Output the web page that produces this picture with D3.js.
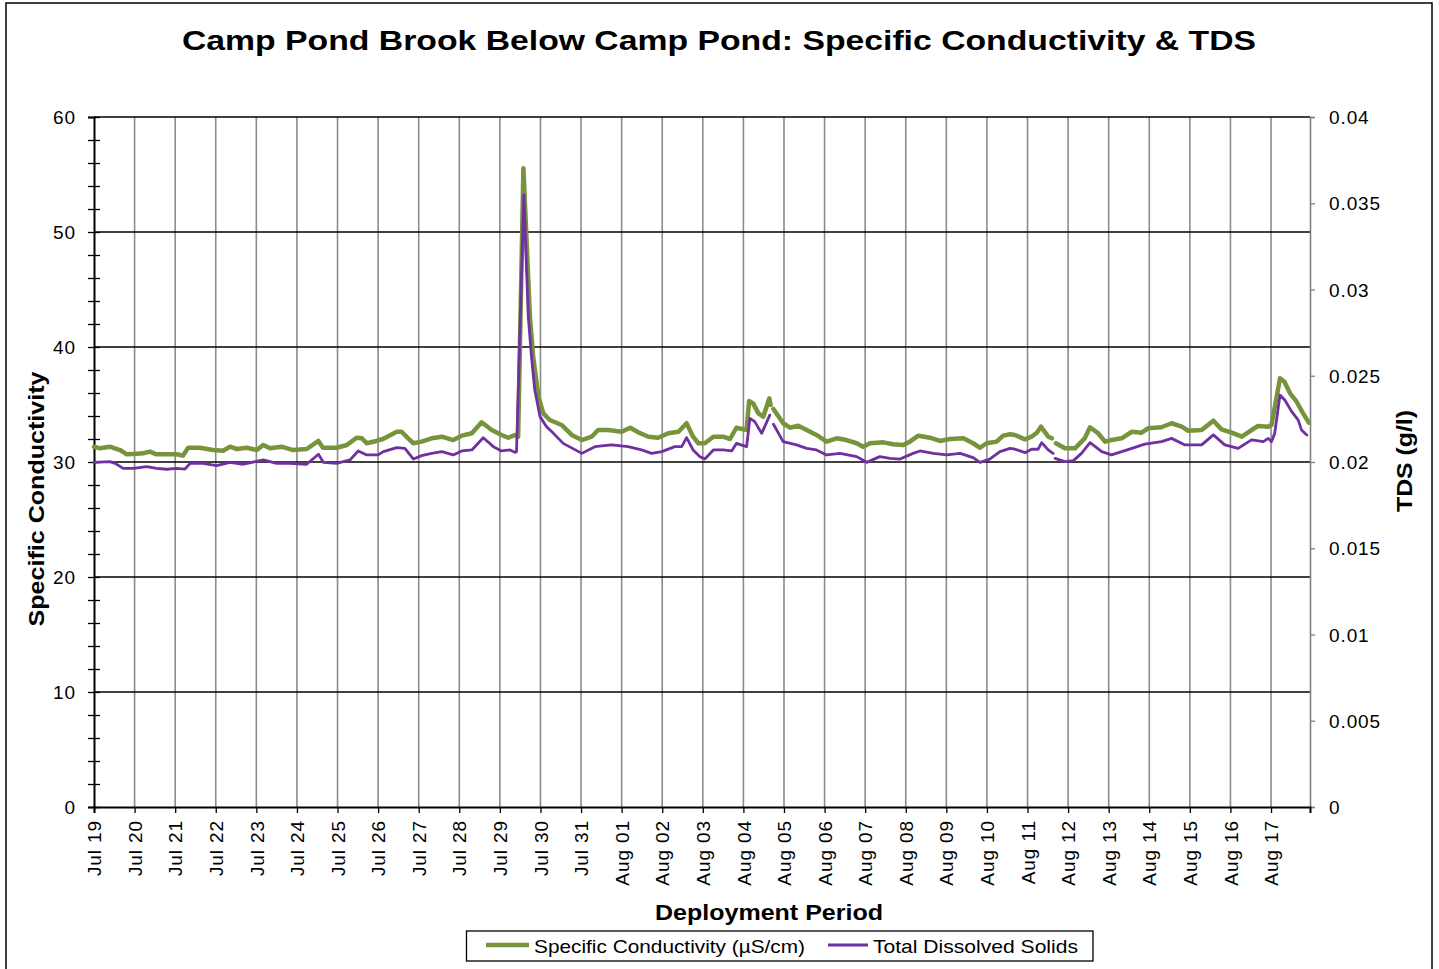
<!DOCTYPE html>
<html>
<head>
<meta charset="utf-8">
<script src="https://cdn.jsdelivr.net/npm/d3@7"></script>
<style>
  body { margin: 0; background: #fff; }
  svg { display: block; }
  text { font-family: "Liberation Sans", Arial, Helvetica, sans-serif; fill: #000; }
</style>
</head>
<body>
<svg id="chart" width="1439" height="969"></svg>
<script>
// Deployment start and span (days after start)
const deploymentStart = new Date(2011, 6, 19);
const deploymentEndDay = 29.96;

// Specific conductivity (µS/cm): sample times in days after deployment start, null = no data
const condDays = [
  0.00, 0.15, 0.39, 0.64, 0.81, 0.96, 1.21, 1.38, 1.54, 1.79,
  2.04, 2.19, 2.32, 2.61, 2.93, 3.18, 3.35, 3.52, 3.76, 4.01,
  4.17, 4.34, 4.62, 4.91, 5.24, 5.53, 5.64, 5.98, 6.23, 6.47,
  6.60, 6.72, 6.96, 7.12, 7.46, 7.58, 7.74, 7.87, 8.07, 8.32,
  8.57, 8.85, 9.06, 9.31, 9.55, 9.80, 10.04, 10.21, 10.37, 10.45,
  10.58, 10.74, 10.82, 10.95, 11.07, 11.23, 11.52, 11.77, 12.02, 12.26,
  12.42, 12.67, 13.00, 13.21, 13.41, 13.66, 13.90, 14.15, 14.40, 14.60,
  14.76, 14.89, 15.05, 15.26, 15.50, 15.67, 15.83, 16.08, 16.14, 16.24,
  16.37, 16.49, 16.64, 16.67, 16.70, 16.74, 16.98, 17.15, 17.35, 17.56,
  17.80, 18.05, 18.30, 18.54, 18.79, 18.95, 19.12, 19.45, 19.69, 19.94,
  20.10, 20.31, 20.60, 20.84, 21.09, 21.42, 21.66, 21.83, 21.99, 22.24,
  22.40, 22.57, 22.69, 22.94, 23.10, 23.23, 23.33, 23.51, 23.60, 23.64,
  23.70, 23.92, 24.17, 24.41, 24.54, 24.74, 24.91, 25.07, 25.32, 25.57,
  25.81, 25.97, 26.30, 26.55, 26.80, 26.96, 27.29, 27.58, 27.78, 28.03,
  28.28, 28.52, 28.68, 28.93, 29.01, 29.14, 29.22, 29.33, 29.47, 29.63,
  29.79, 29.93
];
const condValues = [
  31.33, 31.19, 31.33, 31.04, 30.67, 30.70, 30.76, 30.90, 30.67, 30.67,
  30.67, 30.55, 31.24, 31.24, 31.04, 30.98, 31.33, 31.13, 31.24, 31.04,
  31.48, 31.19, 31.33, 31.04, 31.13, 31.83, 31.24, 31.24, 31.48, 32.11,
  32.06, 31.63, 31.83, 32.00, 32.63, 32.63, 32.06, 31.63, 31.77, 32.06,
  32.20, 31.91, 32.29, 32.50, 33.45, 32.78, 32.35, 32.11, 32.35, 32.20,
  55.54, 42.63, 39.16, 35.68, 34.23, 33.65, 33.22, 32.35, 31.91, 32.20,
  32.78, 32.78, 32.63, 32.98, 32.58, 32.20, 32.11, 32.50, 32.63, 33.37,
  32.20, 31.63, 31.63, 32.20, 32.20, 32.00, 32.98, 32.78, 35.30, 35.10,
  34.23, 33.94, 35.54, 34.96, null, 34.61, 33.37, 32.98, 33.16, 32.78,
  32.35, 31.77, 32.06, 31.91, 31.63, 31.33, 31.63, 31.71, 31.54, 31.48,
  31.77, 32.29, 32.11, 31.83, 32.00, 32.06, 31.63, 31.24, 31.63, 31.77,
  32.29, 32.41, 32.35, 31.97, 32.20, 32.55, 33.07, 32.20, 32.06, null,
  31.63, 31.19, 31.19, 32.06, 33.02, 32.50, 31.77, 31.91, 32.06, 32.63,
  32.55, 32.93, 33.02, 33.37, 33.07, 32.72, 32.78, 33.59, 32.84, 32.55,
  32.20, 32.78, 33.13, 33.07, 33.22, 35.68, 37.28, 36.98, 35.97, 35.24,
  34.23, 33.42
];

// Total dissolved solids (g/l)
const tdsDays = [
  0.00, 0.39, 0.52, 0.72, 0.97, 1.30, 1.54, 1.79, 2.04, 2.24,
  2.37, 2.69, 3.02, 3.35, 3.68, 4.17, 4.50, 4.83, 5.24, 5.53,
  5.65, 5.98, 6.31, 6.51, 6.72, 7.00, 7.13, 7.46, 7.66, 7.87,
  8.07, 8.32, 8.57, 8.85, 9.06, 9.31, 9.59, 9.84, 10.04, 10.25,
  10.37, 10.41, 10.59, 10.70, 10.78, 10.86, 10.99, 11.15, 11.32, 11.56,
  12.02, 12.34, 12.75, 13.16, 13.49, 13.74, 13.99, 14.31, 14.48, 14.60,
  14.76, 14.93, 15.05, 15.26, 15.50, 15.71, 15.83, 16.08, 16.16, 16.28,
  16.45, 16.65, 16.70, 16.74, 16.98, 17.31, 17.56, 17.80, 18.05, 18.38,
  18.79, 19.04, 19.36, 19.61, 19.86, 20.18, 20.35, 20.68, 21.01, 21.34,
  21.66, 21.83, 22.07, 22.32, 22.57, 22.69, 22.94, 23.10, 23.26, 23.35,
  23.51, 23.63, 23.65, 23.68, 23.92, 24.13, 24.33, 24.54, 24.83, 25.07,
  25.32, 25.57, 25.89, 26.30, 26.55, 26.88, 27.29, 27.58, 27.86, 28.19,
  28.52, 28.81, 28.93, 29.01, 29.09, 29.22, 29.34, 29.51, 29.67, 29.75,
  29.88
];
const tdsValues = [
  0.01998, 0.02002, 0.01992, 0.01963, 0.01963, 0.01973, 0.01963, 0.01958, 0.01963, 0.01959,
  0.01992, 0.01992, 0.01979, 0.01998, 0.01987, 0.02012, 0.01992, 0.01992, 0.01987, 0.02045,
  0.01998, 0.01992, 0.02012, 0.02064, 0.02041, 0.02041, 0.02060, 0.02083, 0.02079, 0.02017,
  0.02037, 0.02050, 0.02060, 0.02041, 0.02064, 0.02070, 0.02141, 0.02089, 0.02064, 0.02070,
  0.02056, 0.02060, 0.03548, 0.02842, 0.02610, 0.02417, 0.02263, 0.02205, 0.02166, 0.02108,
  0.02050, 0.02089, 0.02099, 0.02089, 0.02070, 0.02050, 0.02060, 0.02089, 0.02089, 0.02141,
  0.02070, 0.02031, 0.02017, 0.02070, 0.02070, 0.02064, 0.02108, 0.02089, 0.02253, 0.02234,
  0.02166, 0.02272, null, 0.02219, 0.02118, 0.02099, 0.02079, 0.02070, 0.02041, 0.02050,
  0.02031, 0.01998, 0.02031, 0.02021, 0.02017, 0.02050, 0.02064, 0.02050, 0.02041, 0.02050,
  0.02025, 0.01998, 0.02017, 0.02060, 0.02079, 0.02074, 0.02054, 0.02074, 0.02074, 0.02112,
  0.02070, 0.02050, null, 0.02021, 0.02002, 0.02008, 0.02050, 0.02112, 0.02060, 0.02041,
  0.02060, 0.02079, 0.02104, 0.02118, 0.02137, 0.02099, 0.02099, 0.02157, 0.02099, 0.02079,
  0.02128, 0.02118, 0.02137, 0.02118, 0.02166, 0.02388, 0.02359, 0.02292, 0.02243, 0.02186,
  0.02157
];

// Axis tick values
const condTicks = d3.range(0, 61, 2);
const condGridTicks = [10, 20, 30, 40, 50, 60];
const tdsTicks = [0, 0.005, 0.01, 0.015, 0.02, 0.025, 0.03, 0.035, 0.04];
const tdsTickLabels = ["0", "0.005", "0.01", "0.015", "0.02", "0.025", "0.03", "0.035", "0.04"];

const titleText = "Camp Pond Brook Below Camp Pond: Specific Conductivity & TDS";
const legendLabels = ["Specific Conductivity (\u00B5S/cm)", "Total Dissolved Solids"];
const seriesColors = ["#77933C", "#7030A0"];

const dayToDate = d => new Date(deploymentStart.getTime() + d * 864e5);

const plot = { left: 94, right: 1310, top: 117, bottom: 807 };

const svg = d3.select("#chart");

// Outer chart border
svg.append("rect")
  .attr("x", 6).attr("y", 3).attr("width", 1426).attr("height", 990)
  .attr("fill", "#fff").attr("stroke", "#000").attr("stroke-width", 1.5);

const x = d3.scaleTime()
  .domain([deploymentStart, dayToDate(deploymentEndDay)])
  .range([plot.left, plot.right]);
const yCond = d3.scaleLinear().domain([0, 60]).range([plot.bottom, plot.top]);
const yTds = d3.scaleLinear().domain([0, 0.04]).range([plot.bottom, plot.top]);

const dayTicks = d3.timeDay.range(deploymentStart, dayToDate(deploymentEndDay));

// Vertical day gridlines
svg.append("g")
  .selectAll("line")
  .data(dayTicks.slice(1))
  .join("line")
  .attr("x1", d => x(d)).attr("x2", d => x(d))
  .attr("y1", plot.top).attr("y2", plot.bottom)
  .attr("stroke", "#8c8c8c").attr("stroke-width", 1.6);

// Horizontal gridlines
svg.append("g")
  .selectAll("line")
  .data(condGridTicks)
  .join("line")
  .attr("x1", plot.left).attr("x2", plot.right)
  .attr("y1", d => yCond(d)).attr("y2", d => yCond(d))
  .attr("stroke", "#000").attr("stroke-width", 1.3);

// Right axis (TDS)
const rightAxis = svg.append("g")
  .attr("transform", `translate(${plot.right},0)`)
  .call(d3.axisRight(yTds).tickValues(tdsTicks)
    .tickFormat((d, i) => tdsTickLabels[i]).tickSize(5).tickPadding(14));
rightAxis.select(".domain").attr("stroke", "#808080").attr("stroke-width", 1.6);
rightAxis.selectAll(".tick line").attr("stroke", "#808080").attr("stroke-width", 1.3);
rightAxis.selectAll(".tick text")
  .attr("font-size", 19).attr("letter-spacing", 0.9).attr("dy", "0.35em")
  .style("font-family", "'Liberation Sans', Arial, sans-serif").attr("fill", "#000");

// Left axis (specific conductivity)
const leftAxis = svg.append("g")
  .attr("transform", `translate(${plot.left},0)`)
  .call(d3.axisLeft(yCond).tickValues(condTicks)
    .tickFormat(d => d % 10 === 0 ? d : "").tickSize(6).tickPadding(12));
leftAxis.select(".domain").attr("stroke", "#000").attr("stroke-width", 2);
leftAxis.selectAll(".tick line").attr("x1", 6).attr("stroke", "#000").attr("stroke-width", 1.3);
leftAxis.selectAll(".tick text")
  .attr("font-size", 19).attr("letter-spacing", 0.9).attr("dy", "0.35em")
  .style("font-family", "'Liberation Sans', Arial, sans-serif").attr("fill", "#000");

// Bottom axis (dates)
const bottomAxis = svg.append("g")
  .attr("transform", `translate(0,${plot.bottom})`)
  .call(d3.axisBottom(x).tickValues(dayTicks)
    .tickFormat(d3.timeFormat("%b %d")).tickSize(6).tickPadding(0));
bottomAxis.select(".domain").attr("stroke", "#000").attr("stroke-width", 2);
bottomAxis.selectAll(".tick line").attr("stroke", "#000").attr("stroke-width", 1.3);
bottomAxis.selectAll(".tick text")
  .attr("font-size", 19).attr("letter-spacing", 0.9)
  .style("font-family", "'Liberation Sans', Arial, sans-serif").attr("fill", "#000")
  .attr("text-anchor", "end")
  .attr("transform", "rotate(-90)")
  .attr("x", -13).attr("y", 0).attr("dy", "0.35em");

// Series lines
const condData = condDays.map((d, i) => ({ t: dayToDate(d), v: condValues[i] }));
const tdsData = tdsDays.map((d, i) => ({ t: dayToDate(d), v: tdsValues[i] }));

svg.append("path")
  .datum(condData)
  .attr("fill", "none").attr("stroke", seriesColors[0]).attr("stroke-width", 4.5)
  .attr("stroke-linejoin", "round").attr("stroke-linecap", "round")
  .attr("d", d3.line().defined(d => d.v !== null).x(d => x(d.t)).y(d => yCond(d.v)));

svg.append("path")
  .datum(tdsData)
  .attr("fill", "none").attr("stroke", seriesColors[1]).attr("stroke-width", 2.8)
  .attr("stroke-linejoin", "round").attr("stroke-linecap", "round")
  .attr("d", d3.line().defined(d => d.v !== null).x(d => x(d.t)).y(d => yTds(d.v)));

// Title
svg.append("text")
  .attr("x", 719).attr("y", 50).attr("text-anchor", "middle")
  .attr("font-size", 28).attr("font-weight", "bold")
  .attr("textLength", 1074).attr("lengthAdjust", "spacingAndGlyphs")
  .text(titleText);

// Axis titles
svg.append("text")
  .attr("transform", "translate(44,499) rotate(-90)")
  .attr("text-anchor", "middle").attr("font-size", 22).attr("font-weight", "bold")
  .attr("textLength", 255).attr("lengthAdjust", "spacingAndGlyphs")
  .text("Specific Conductivity");

svg.append("text")
  .attr("transform", "translate(1412,461) rotate(-90)")
  .attr("text-anchor", "middle").attr("font-size", 22).attr("font-weight", "bold")
  .attr("textLength", 102).attr("lengthAdjust", "spacingAndGlyphs")
  .text("TDS (g/l)");

svg.append("text")
  .attr("x", 769).attr("y", 920).attr("text-anchor", "middle")
  .attr("font-size", 22).attr("font-weight", "bold")
  .attr("textLength", 228).attr("lengthAdjust", "spacingAndGlyphs")
  .text("Deployment Period");

// Legend
const legend = svg.append("g");
legend.append("rect")
  .attr("x", 466.5).attr("y", 931).attr("width", 626.5).attr("height", 30)
  .attr("fill", "#fff").attr("stroke", "#000").attr("stroke-width", 1.3);
const legendItems = [
  { x1: 486, x2: 529, tx: 534, len: 271, w: 4.5 },
  { x1: 828, x2: 868, tx: 873, len: 205, w: 2.8 }
];
legendItems.forEach((it, i) => {
  legend.append("line")
    .attr("x1", it.x1).attr("x2", it.x2).attr("y1", 945).attr("y2", 945)
    .attr("stroke", seriesColors[i]).attr("stroke-width", it.w);
  legend.append("text")
    .attr("x", it.tx).attr("y", 953).attr("font-size", 19)
    .attr("textLength", it.len).attr("lengthAdjust", "spacingAndGlyphs")
    .text(legendLabels[i]);
});
</script>
</body>
</html>
